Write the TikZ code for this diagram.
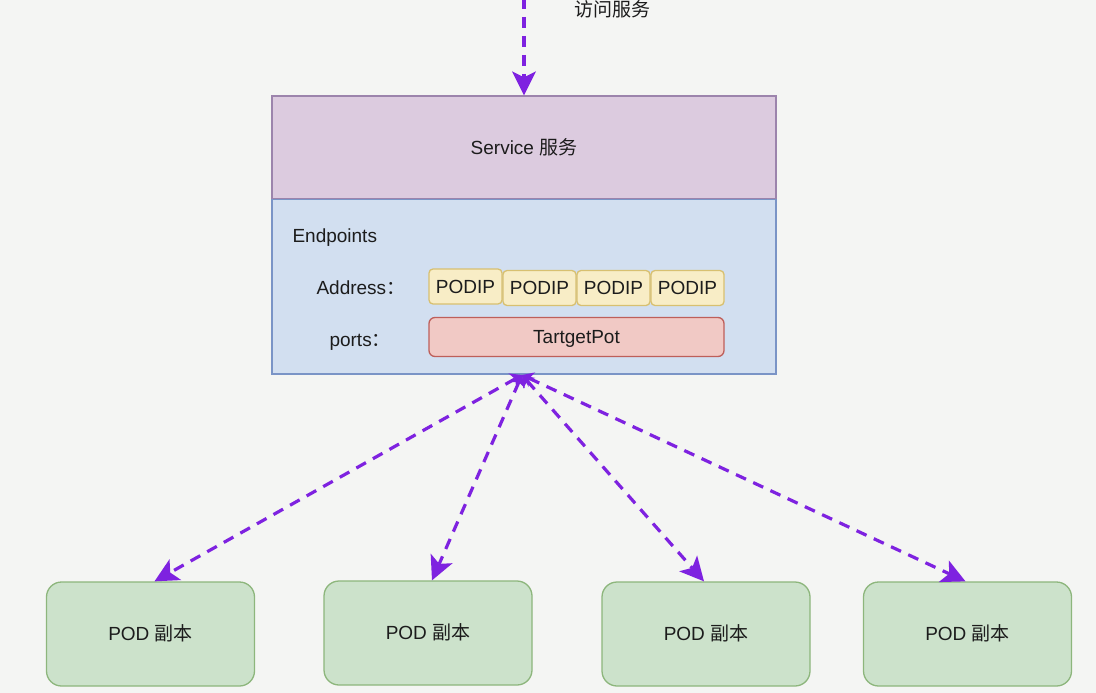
\documentclass[tikz,border=0pt]{standalone}
\usepackage{fontspec}
\setmainfont{Liberation Sans}
\newfontfamily\cjk{Noto Sans CJK SC}
\usetikzlibrary{arrows.meta,calc}
\definecolor{bgc}{HTML}{F4F5F3}
\definecolor{arrc}{HTML}{7E22E0}
\definecolor{svcfill}{HTML}{DCCBDF}
\definecolor{svcdraw}{HTML}{9C84AC}
\definecolor{epfill}{HTML}{D2DFF0}
\definecolor{epdraw}{HTML}{7A94C6}
\definecolor{ipfill}{HTML}{F8EDC6}
\definecolor{ipdraw}{HTML}{D8C070}
\definecolor{ptfill}{HTML}{F1C9C5}
\definecolor{ptdraw}{HTML}{BE5F5A}
\definecolor{podfill}{HTML}{CCE2CB}
\definecolor{poddraw}{HTML}{8DB67C}
\definecolor{txt}{HTML}{1C1C1C}
\tikzset{
  every node/.style={text=txt, font=\fontsize{19}{21}\selectfont, text height=13.5pt, text depth=0pt},
  bigbox/.style={draw, line width=1.3pt, rectangle, minimum width=504pt, inner sep=0pt},
  ipbox/.style={draw=ipdraw, fill=ipfill, line width=1.3pt, rounded corners=4pt, minimum width=73pt, minimum height=35pt, inner sep=0pt},
  portbox/.style={draw=ptdraw, fill=ptfill, line width=1.3pt, rounded corners=6pt, minimum width=295pt, minimum height=39pt, inner sep=0pt},
  podbox/.style={draw=poddraw, fill=podfill, line width=1.3pt, rounded corners=15pt, minimum width=208pt, minimum height=104pt, inner sep=0pt},
  bighead/.tip={Stealth[length=24pt,width=24pt,inset=6pt,line width=0pt,fill=arrc]},
  smallhead/.tip={Stealth[length=11pt,width=16pt,inset=3pt,line width=0pt,fill=arrc]},
  link/.style={draw=arrc, line width=3.2pt, dash pattern=on 11pt off 8pt, -bighead},
  podlink/.style={link, smallhead-bighead}
}
\begin{document}
\begin{tikzpicture}[x=1pt,y=-1pt]
\fill[bgc] (0,0) rectangle (1096,693);
\useasboundingbox (0,0) rectangle (1096,693);

\node[bigbox, draw=svcdraw, fill=svcfill, minimum height=103pt] (svc) at (524,147.5) {Service {\cjk 服务}};
\node[bigbox, draw=epdraw, fill=epfill, minimum height=175pt] (ep) at (524,286.5) {};
\draw[svcdraw, line width=1.3pt] (ep.north west) -- (ep.north east);

\node[anchor=west] (eplabel) at (289,236) {Endpoints};
\node[anchor=west] (addr) at (313,288) {Address{\cjk ：}};
\node[anchor=west] (ports) at (326,340) {ports{\cjk ：}};

\node[ipbox] (ip1) at (465.5,286.5) {PODIP};
\node[ipbox] (ip2) at (539.5,288) {PODIP};
\node[ipbox] (ip3) at (613.5,288) {PODIP};
\node[ipbox] (ip4) at (687.5,288) {PODIP};
\node[portbox] (port) at (576.5,337) {TartgetPot};

\node[podbox] (pod1) at (150.5,634) {POD {\cjk 副本}};
\node[podbox] (pod2) at (428,633) {POD {\cjk 副本}};
\node[podbox] (pod3) at (706,634) {POD {\cjk 副本}};
\node[podbox] (pod4) at (967.5,634) {POD {\cjk 副本}};

\node (access) at (612,10) {\cjk 访问服务};
\coordinate (topin) at (524,-2);
\coordinate (src) at (522,375);

\draw[link] (topin) -- (svc.north);
\draw[podlink] (src) -- ($(pod1.north)+(4,0)$);
\draw[podlink] (src) -- ($(pod2.north)+(4,0)$);
\draw[podlink] (src) -- ($(pod3.north)+(-2,0)$);
\draw[podlink] (src) -- ($(pod4.north)+(-2,0)$);
\end{tikzpicture}
\end{document}
